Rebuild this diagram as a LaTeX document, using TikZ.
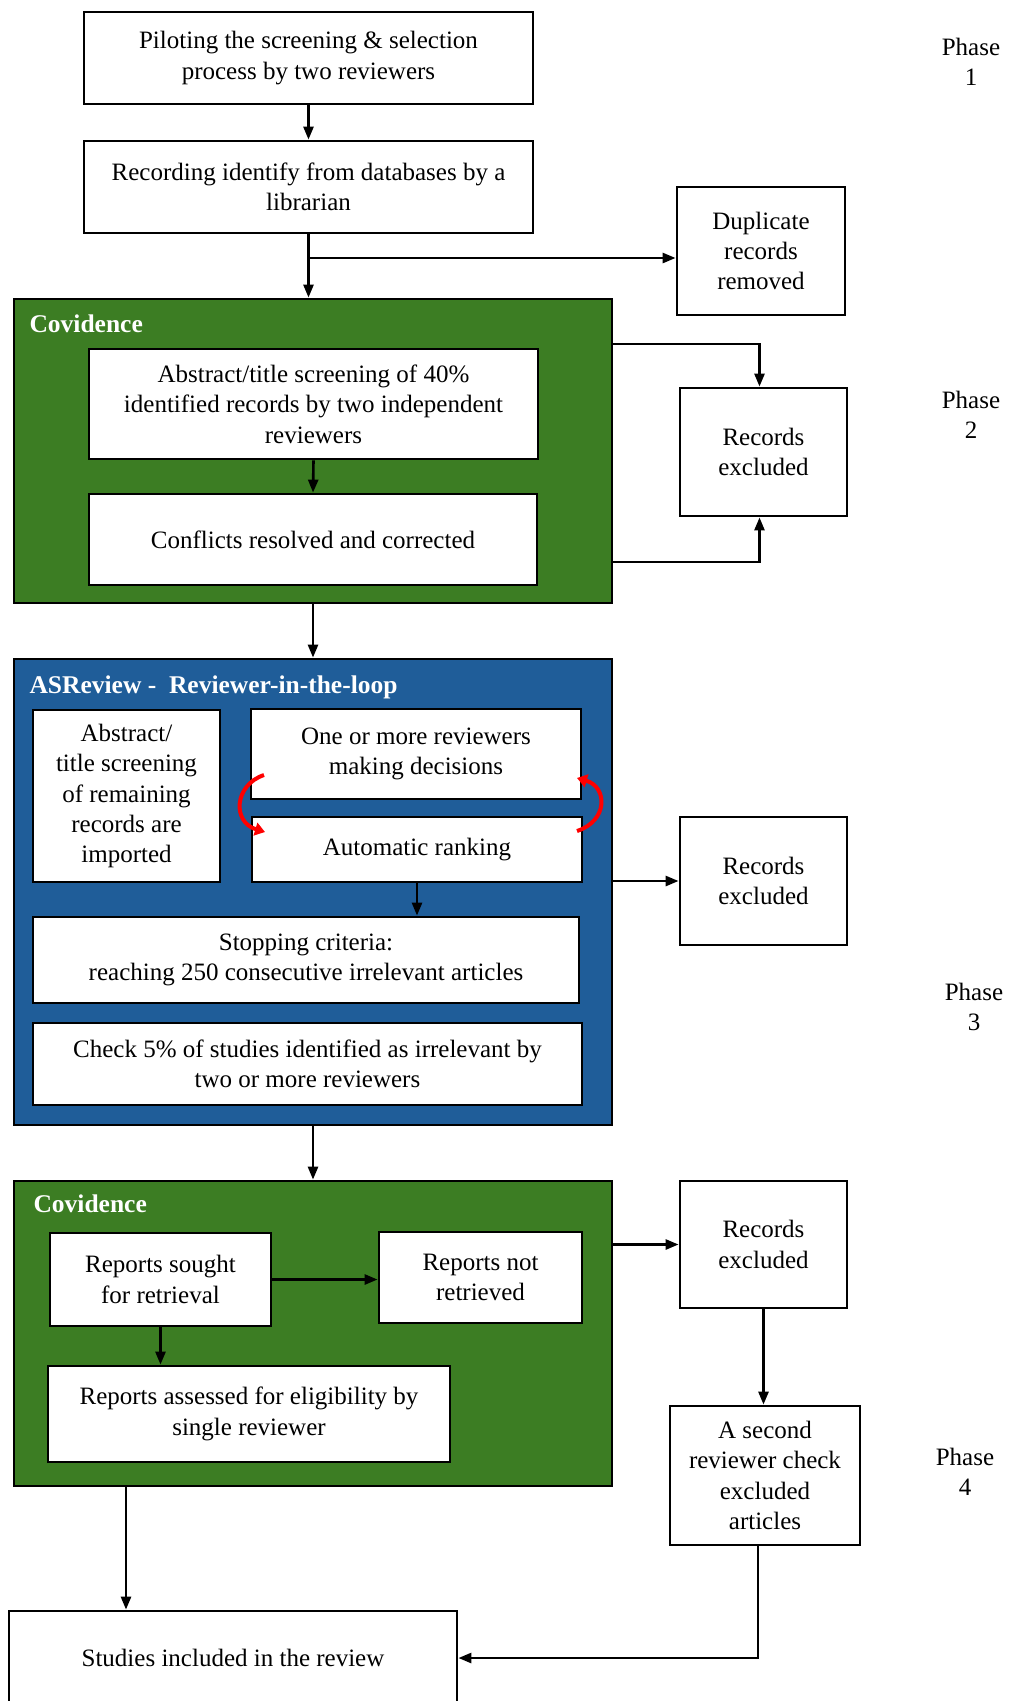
\documentclass[tikz,border=0pt]{standalone}
\usepackage{fontspec}
\setmainfont{Liberation Serif}
\usetikzlibrary{arrows.meta,calc}
\definecolor{covgreen}{RGB}{60,125,35}
\definecolor{asrblue}{RGB}{31,93,153}
\begin{document}
\begin{tikzpicture}[x=1pt,y=-1pt,
  every node/.style={font=\fontsize{25}{30.4}\selectfont},
  box/.style={draw=black,line width=2.8pt,fill=white,align=center,inner sep=2pt},
  panelgreen/.style={draw=black,line width=2.8pt,fill=covgreen,inner sep=0pt},
  panelblue/.style={draw=black,line width=2.8pt,fill=asrblue,inner sep=0pt},
  paneltitle/.style={text=white,anchor=west,font=\fontsize{25.5}{30.4}\selectfont\bfseries},
  phase/.style={align=center},
  arr/.style={line width=2.6pt,-{Triangle[length=13pt,width=10pt]}},
  loop/.style={draw=red,line width=4pt,-{Triangle[length=10pt,width=13pt]}}]
\useasboundingbox (0,0) rectangle (1012,1701);
\fill[white] (0,0) rectangle (1012,1701);

% Phase 1
\node[box,minimum width=449pt,minimum height=92pt] (p1) at (308.5,58) {Piloting the screening \& selection\\process by two reviewers};
\node[box,minimum width=449pt,minimum height=92pt] (rec) at (308.5,187) {Recording identify from databases by a\\librarian};
\node[box,minimum width=168pt,minimum height=128pt] (dup) at (761,251) {Duplicate\\records\\removed};

% Covidence 1
\node[panelgreen,minimum width=598pt,minimum height=304pt] (cov1) at (313,451) {};
\node[paneltitle] (cov1t) at (26,324) {Covidence};
\node[box,minimum width=449pt,minimum height=110pt] (abs) at (313.5,404) {Abstract/title screening of 40\%\\identified records by two independent\\reviewers};
\node[box,minimum width=448pt,minimum height=91pt] (conf) at (313,539.5) {Conflicts resolved and corrected};
\node[box,minimum width=167pt,minimum height=128pt] (rex1) at (763.5,452) {Records\\excluded};

% ASReview
\node[panelblue,minimum width=598pt,minimum height=466pt] (asr) at (313,892) {};
\node[paneltitle] (asrt) at (26,687) {ASReview -\ \ Reviewer-in-the-loop};
\node[box,minimum width=187pt,minimum height=172pt] (imp) at (126.5,796) {Abstract/\\title screening\\of remaining\\records are\\imported};
\node[box,minimum width=330pt,minimum height=90pt] (one) at (416,754) {One or more reviewers\\making decisions};
\node[box,minimum width=330pt,minimum height=65pt] (auto) at (417,849.5) {Automatic ranking};
\node[box,minimum width=546pt,minimum height=86pt] (stop) at (306,960) {Stopping criteria:\\reaching 250 consecutive irrelevant articles};
\node[box,minimum width=549pt,minimum height=82pt] (check) at (307.5,1064) {Check 5\% of studies identified as irrelevant by\\two or more reviewers};
\node[box,minimum width=167pt,minimum height=128pt] (rex2) at (763.5,881) {Records\\excluded};

% Covidence 2
\node[panelgreen,minimum width=598pt,minimum height=305pt] (cov2) at (313,1333.5) {};
\node[paneltitle] (cov2t) at (30,1204) {Covidence};
\node[box,minimum width=221pt,minimum height=93pt] (sought) at (160.5,1279.5) {Reports sought\\for retrieval};
\node[box,minimum width=203pt,minimum height=91pt] (notret) at (480.5,1277.5) {Reports not\\retrieved};
\node[box,minimum width=402pt,minimum height=96pt] (assess) at (249,1414) {Reports assessed for eligibility by\\single reviewer};
\node[box,minimum width=167pt,minimum height=127pt] (rex3) at (763.5,1244.5) {Records\\excluded};
\node[box,minimum width=190pt,minimum height=139pt] (second) at (765,1475.5) {A second\\reviewer check\\excluded\\articles};
\node[box,minimum width=448pt,minimum height=94pt] (studies) at (233,1658) {Studies included in the review};

% Phase labels
\node[phase] (ph1) at (971,62) {Phase\\1};
\node[phase] (ph2) at (971,415) {Phase\\2};
\node[phase] (ph3) at (974,1007) {Phase\\3};
\node[phase] (ph4) at (965,1472) {Phase\\4};

% Connectors
\coordinate (branch) at (310,258);
\coordinate (c1top) at (612,344);
\coordinate (c1bot) at (612,562);
\coordinate (c2bot) at (126,1486);
\draw[arr] (p1.south) -- (rec.north);
\draw[arr] (rec.south) -- (rec.south |- cov1.north);
\draw[arr] (branch) -- (branch -| dup.west);
\draw[arr] (c1top) -| ([xshift=-4pt]rex1.north);
\draw[arr] (c1bot) -| ([xshift=-4pt]rex1.south);
\draw[arr] (abs.south) -- (conf.north);
\draw[arr] (cov1.south) -- (asr.north);
\draw[arr] (auto.south) -- (auto.south |- stop.north);
\draw[arr] (rex2.west -| asr.east) -- (rex2.west);
\draw[arr] (asr.south) -- (cov2.north);
\draw[arr] (sought.east) -- (sought.east -| notret.west);
\draw[arr] (sought.south) -- (sought.south |- assess.north);
\draw[arr] (rex3.west -| cov2.east) -- (rex3.west);
\draw[arr] (rex3.south) -- (rex3.south |- second.north);
\draw[arr] (c2bot) -- (c2bot |- studies.north);
\draw[arr] ([xshift=-7pt]second.south) |- (studies.east);

% Loop arrows
\coordinate (la) at (264,775);
\coordinate (lb) at (265,832);
\coordinate (ra) at (577,831);
\coordinate (rb) at (577,778);
\draw[loop] (la) .. controls (234,785) and (232,822) .. (lb);
\draw[loop] (ra) .. controls (608,821) and (608,787) .. (rb);
\end{tikzpicture}
\end{document}
